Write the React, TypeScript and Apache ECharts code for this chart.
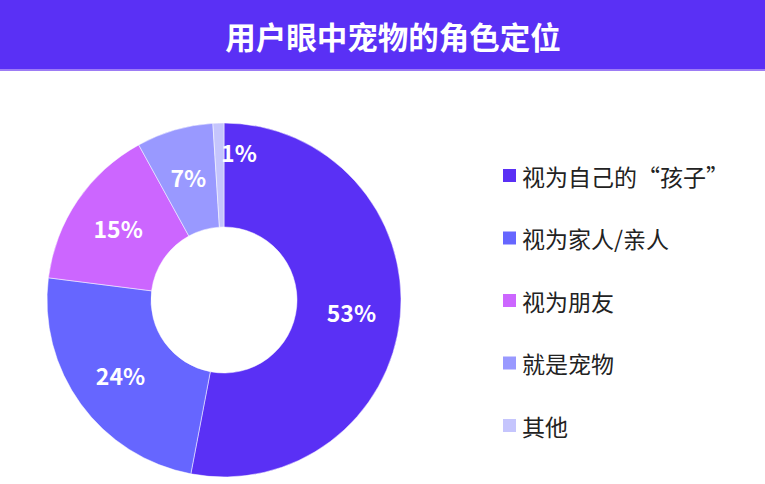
import { useEffect, useRef } from "react";
import * as echarts from "echarts";

const TITLE = "用户眼中宠物的角色定位";
const CATEGORIES = ["视为自己的“孩子”", "视为家人/亲人", "视为朋友", "就是宠物", "其他"];
const VALUES = [53, 24, 15, 7, 1];
const COLORS = ["#5a30f5", "#6666ff", "#cc66ff", "#9999ff", "#c5c5fd"];

const FONT = "'Noto Sans CJK SC', 'Noto Sans', sans-serif";

export default function App() {
  const chartRef = useRef<HTMLDivElement>(null);

  useEffect(() => {
    if (!chartRef.current) return;
    const chart = echarts.init(chartRef.current, null, { renderer: "svg" });

    chart.setOption({
      animation: false,
      color: COLORS,
      textStyle: { fontFamily: FONT },
      graphic: [
        {
          type: "rect",
          left: 0,
          top: 0,
          z: 0,
          shape: { width: 765, height: 70 },
          style: { fill: "#5a30f5" },
        },
        {
          type: "rect",
          left: 0,
          top: 69,
          z: 1,
          shape: { width: 765, height: 2 },
          style: { fill: "#9d7cf5" },
        },
        {
          type: "text",
          x: 393,
          y: 36,
          z: 10,
          style: {
            text: TITLE,
            fill: "#ffffff",
            font: `bold 30.5px ${FONT}`,
            align: "center",
            verticalAlign: "middle",
          },
        },
      ],
      legend: {
        orient: "vertical",
        left: 501,
        top: 164,
        padding: 0,
        itemWidth: 15,
        itemHeight: 15,
        itemGap: 39.5,
        icon: "rect",
        textStyle: {
          fontSize: 23,
          lineHeight: 23,
          color: "#222222",
          fontFamily: FONT,
        },
        data: CATEGORIES,
      },
      series: [
        {
          type: "pie",
          center: [224, 300],
          radius: [73, 177],
          startAngle: 90,
          clockwise: true,
          avoidLabelOverlap: false,
          itemStyle: { borderColor: "#ffffff", borderWidth: 0.5 },
          label: {
            show: true,
            position: "inside",
            formatter: "{c}%",
            color: "#ffffff",
            fontSize: 23,
            fontWeight: "bold",
            fontFamily: FONT,
          },
          labelLine: { show: false },
          labelLayout: { hideOverlap: false },
          emphasis: { disabled: true },
          data: CATEGORIES.map((name, i) =>
            i === CATEGORIES.length - 1
              ? { name, value: VALUES[i], label: { offset: [19, -20] } }
              : { name, value: VALUES[i] }
          ),
        },
      ],
    });

    return () => chart.dispose();
  }, []);

  return (
    <div
      ref={chartRef}
      style={{ position: "fixed", left: 0, top: 0, width: "765px", height: "484px", background: "#fff" }}
    />
  );
}
